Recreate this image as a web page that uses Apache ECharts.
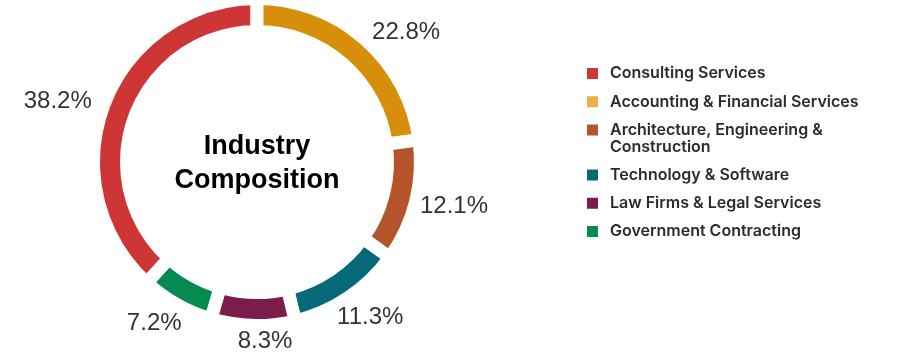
<!DOCTYPE html>
<html>
<head>
<meta charset="utf-8">
<script src="https://cdn.jsdelivr.net/npm/echarts@6/dist/echarts.min.js"></script>
<style>
html,body{margin:0;padding:0;background:#fff;}
#chart{width:902px;height:363px;}
</style>
</head>
<body>
<div id="chart"></div>
<script>
const categories = [
  'Consulting Services',
  'Accounting & Financial Services',
  'Architecture, Engineering & Construction',
  'Technology & Software',
  'Law Firms & Legal Services',
  'Government Contracting'
];
const values = [38.2, 22.8, 12.1, 11.3, 8.3, 7.2];
const centerTitle = 'Industry\nComposition';

const ringColors = ['#CD3634', '#D78F0B', '#B5532A', '#05697A', '#7A1C4C', '#068A4F'];
const legendColors = ['#CD3634', '#EDB044', '#B5532A', '#05697A', '#7A1C4C', '#068A4F'];
// small per-label position nudges (pixels) to match the reference label placement
const labelNudge = [[-9, 5], [15, 8], [-1, 0], [0, 4], [13, -3], [-6, 3]];

const total = values.reduce((a, b) => a + b, 0);
const startAngle = 90 + 360 * values[0] / total;
function midAngle(i) {
  let cum = 0;
  for (let k = 0; k < i; k++) cum += values[k];
  return (startAngle - 360 * (cum + values[i] / 2) / total) * Math.PI / 180;
}

const CX = 257, CY = 162;
const OUTER = 163.5, INNER = 130.5, LABEL_R = 170;

const chart = echarts.init(document.getElementById('chart'), null, {renderer: 'canvas'});

function legendCfg(names, top, wrap) {
  return {
    orient: 'vertical',
    left: 585,
    top: top,
    padding: 0,
    itemWidth: 13,
    itemHeight: 13,
    itemGap: 11.3,
    icon: 'rect',
    selectedMode: false,
    data: names.map(n => ({name: n, itemStyle: {color: legendColors[categories.indexOf(n)]}})),
    formatter: function (name) {
      return wrap ? '\n' + name.replace('& Construction', '&\nConstruction') : name;
    },
    textStyle: {
      fontFamily: 'Inter',
      fontWeight: 600,
      fontSize: 16,
      color: '#2b2b2b',
      lineHeight: 17,
      padding: [0, 0, 0, 6]
    }
  };
}

const option = {
  animation: false,
  backgroundColor: '#ffffff',
  legend: [
    legendCfg(categories.slice(0, 2), 65, false),
    legendCfg(categories.slice(2, 3), 104.5, true),
    legendCfg(categories.slice(3), 166.5, false)
  ],
  graphic: [{
    type: 'text',
    x: CX,
    y: CY + 1.5,
    silent: true,
    style: {
      text: centerTitle,
      fontFamily: '"Liberation Sans", Arial, sans-serif',
      fontWeight: 'bold',
      fontSize: 27,
      lineHeight: 34,
      fill: '#000',
      align: 'center',
      verticalAlign: 'middle'
    }
  }],
  series: [{
    type: 'pie',
    center: [CX, CY],
    radius: [INNER, OUTER],
    startAngle: startAngle,
    clockwise: true,
    avoidLabelOverlap: false,
    silent: true,
    itemStyle: {borderColor: '#ffffff', borderWidth: 13},
    label: {
      show: true,
      position: 'outside',
      formatter: '{c}%',
      fontFamily: '"Liberation Sans", Arial, sans-serif',
      fontSize: 24,
      color: '#333333',
      distanceToLabelLine: 0
    },
    labelLine: {show: false, length: LABEL_R - OUTER, length2: 0},
    labelLayout: function (p) {
      const th = midAngle(p.dataIndex);
      const c = Math.cos(th), s = Math.sin(th);
      const w = p.labelRect.width, h = p.labelRect.height;
      const sign = p.align === 'right' ? -1 : 1;
      const nd = labelNudge[p.dataIndex];
      return {dx: w / 2 * c - sign * w / 2 + nd[0], dy: -s * h / 2 + nd[1]};
    },
    data: categories.map((n, i) => ({name: n, value: values[i], itemStyle: {color: ringColors[i]}}))
  }]
};
chart.setOption(option);
</script>
</body>
</html>
